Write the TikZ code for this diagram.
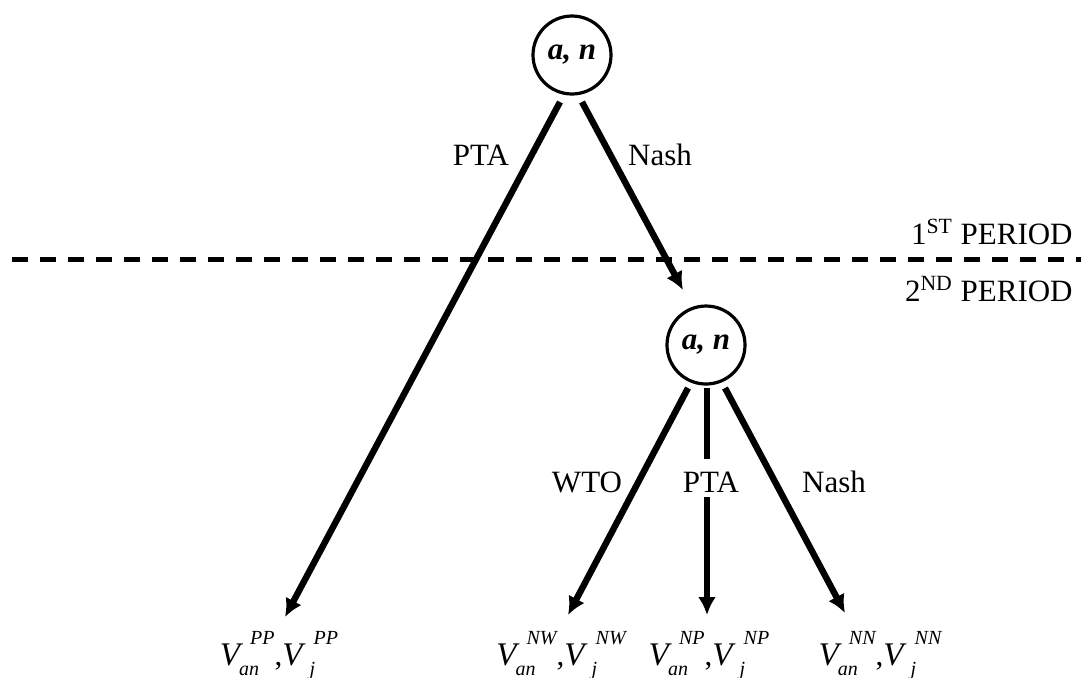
\documentclass[tikz,border=0pt]{standalone}
\usepackage{fontspec}
\setmainfont{Liberation Serif}
\usepackage{tikz}
\usetikzlibrary{arrows.meta,calc,positioning}

% V with a tucked subscript and a raised superscript
\newcommand{\vterm}[4]{{\fontsize{16.5}{18}\selectfont\textit{V}}\kern#1\rlap{\raisebox{-5pt}{\fontsize{10}{10}\selectfont\itshape #3}}\kern#2\raisebox{10.5pt}{\fontsize{10}{10}\selectfont\itshape #4}}
\newcommand{\payoffs}[1]{\vterm{-2pt}{5.5pt}{an}{#1},\vterm{2pt}{2pt}{j}{#1}}

\begin{document}
\begin{tikzpicture}[x=0.5pt, y=-0.5pt,
        font=\fontsize{15.5}{18}\selectfont,
        player/.style = {circle, draw, line width=1.6pt, minimum size=39pt, inner sep=0pt, font=\fontsize{15.5}{18}\selectfont\bfseries\itshape},
        branch/.style = {arrows = {-Latex[width=9pt, length=9pt]}, line width=3.2pt},
        choice/.style = {anchor=base, inner sep=0pt},
        payoff/.style = {anchor=base, inner sep=0pt}]
        \useasboundingbox (0,0) rectangle (1081,677);

        \node[player] (root) at (572,55) {a, n};
        \node[player] (stage) at (706,345) {a, n};

        \node[payoff] (pp) at (279,665) {\payoffs{PP}};
        \node[payoff] (nw) at (561,665) {\payoffs{NW}};
        \node[payoff] (np) at (709,665) {\payoffs{NP}};
        \node[payoff] (nn) at (880,665) {\payoffs{NN}};

        \draw[line width=2.5pt, dash pattern=on 8pt off 6pt] (12,259.5) -- (1081,259.5);
        \node[anchor=base east, inner sep=0pt] (first) at (1073,244) {1\textsuperscript{ST} PERIOD};
        \node[anchor=base east, inner sep=0pt] (second) at (1073,301) {2\textsuperscript{ND} PERIOD};

        \draw[branch] ($(root)+(-12,47)$) -- ($(pp.base)+(6,-48)$);
        \draw[branch] ($(root)+(10,47)$) -- ($(stage)+(-23,-55)$);

        \draw[branch] ($(stage)+(-18,43)$) -- ($(nw.base)+(7,-50)$);
        \draw[branch] ($(stage)+(1,43)$) -- ($(np.base)+(-2,-50)$);
        \draw[branch] ($(stage)+(19,43)$) -- ($(nn.base)+(-35,-52)$);

        \node[choice] (pta1) at (481,165) {PTA};
        \node[choice] (nash1) at (660,165) {Nash};
        \node[choice] (wto2) at (587,492) {WTO};
        \node[choice, fill=white, text height=16.5pt, text depth=2.5pt] (pta2) at (711,492) {PTA};
        \node[choice] (nash2) at (834,492) {Nash};
\end{tikzpicture}
\end{document}
